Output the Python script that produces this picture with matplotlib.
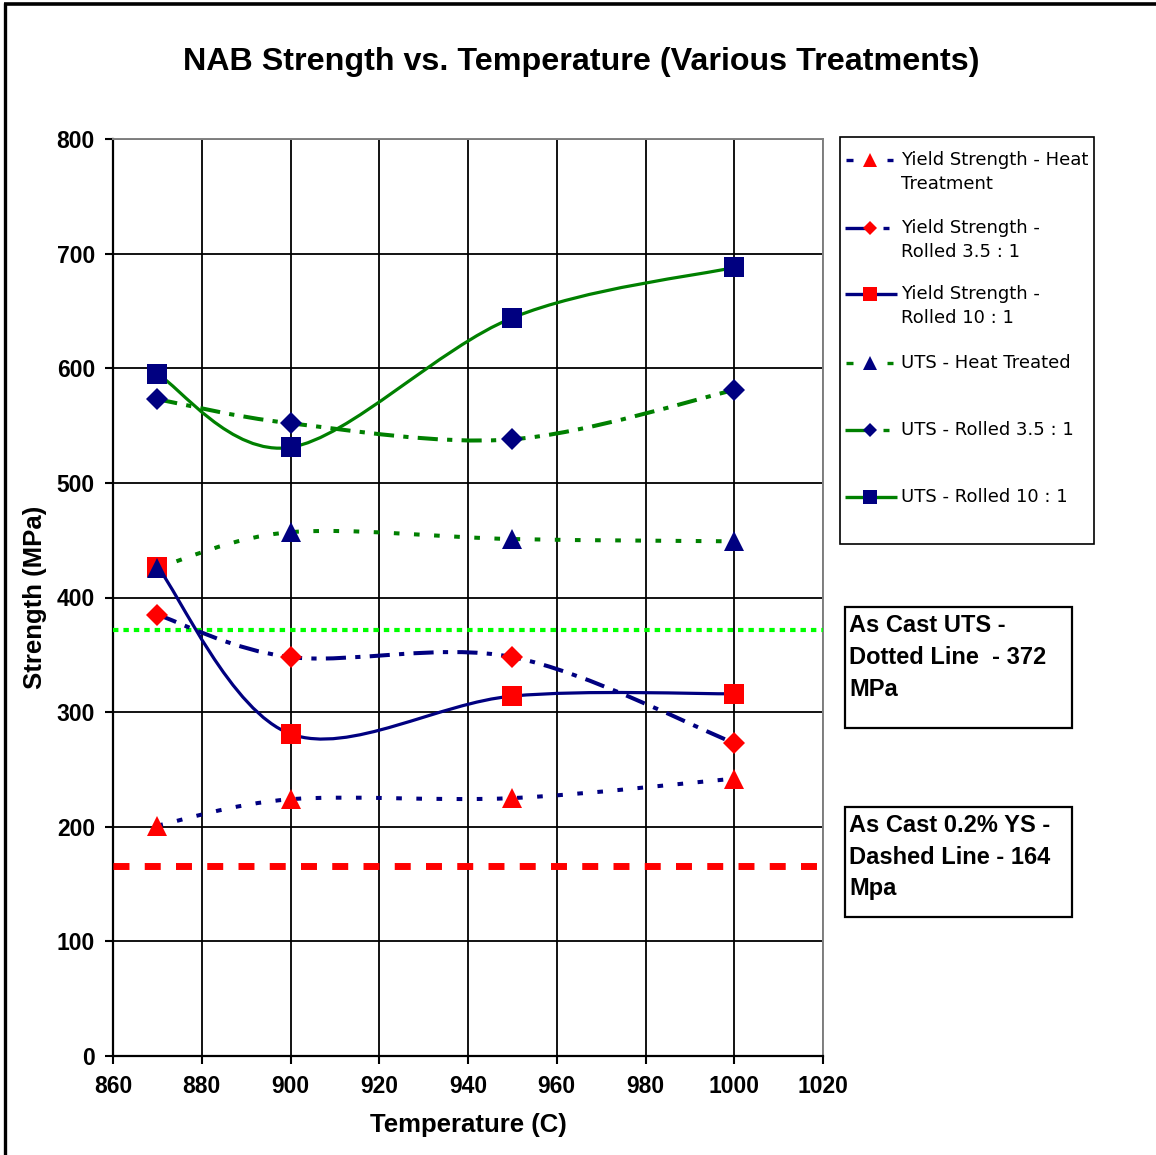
import numpy as np
import matplotlib
matplotlib.use("Agg")
import matplotlib.pyplot as plt
from matplotlib.path import Path
from matplotlib.patches import PathPatch, Rectangle

# ---------------- data ----------------
temps = [870, 900, 950, 1000]
ys_heat = [201, 224, 225, 242]
ys_r35 = [385, 348, 348, 273]
ys_r10 = [427, 281, 314, 316]
uts_heat = [426, 457, 451, 449]
uts_r35 = [573, 552, 538, 581]
uts_r10 = [595, 531, 644, 688]
as_cast_uts = 372
as_cast_ys = 166

legend_labels = [
    ["Yield Strength - Heat", "Treatment"],
    ["Yield Strength -", "Rolled 3.5 : 1"],
    ["Yield Strength -", "Rolled 10 : 1"],
    ["UTS - Heat Treated"],
    ["UTS - Rolled 3.5 : 1"],
    ["UTS - Rolled 10 : 1"],
]
x_ticks = list(range(860, 1021, 20))
y_ticks = list(range(0, 801, 100))

NAVY = "#000080"
GREEN = "#008000"
RED = "#FF0000"
LIME = "#00FF00"

W, H = 1156, 1155
fig = plt.figure(figsize=(W / 100, H / 100), dpi=100)
fig.patch.set_facecolor("white")

ax_l, ax_r, ax_t, ax_b = 113, 823, 139, 1056
ax = fig.add_axes([ax_l / W, 1 - ax_b / H, (ax_r - ax_l) / W, (ax_b - ax_t) / H])
ax.set_xlim(860, 1020)
ax.set_ylim(0, 800)
ax.set_xticks(x_ticks)
ax.set_yticks(y_ticks)
ax.grid(True, color="black", linewidth=1.3)
ax.set_axisbelow(True)
for s in ["left", "bottom"]:
    ax.spines[s].set_color("black")
    ax.spines[s].set_linewidth(1.6)
for s in ["top", "right"]:
    ax.spines[s].set_color("#808080")
    ax.spines[s].set_linewidth(1.4)
for s in ax.spines.values():
    s.set_zorder(3)
ax.tick_params(axis="y", direction="out", length=6, width=1.5, pad=7,
               labelsize=16.5)
ax.tick_params(axis="x", direction="out", length=6, width=1.5, pad=8,
               labelsize=16.5)
for lab in ax.get_xticklabels() + ax.get_yticklabels():
    lab.set_fontfamily("Liberation Sans")
    lab.set_fontweight("bold")

ax.set_xlabel("Temperature (C)", fontsize=18.5, fontweight="bold",
              fontfamily="Liberation Sans", va="center")
ax.xaxis.set_label_coords(0.5, (ax_b - 1125) / (ax_b - ax_t))
ax.set_ylabel("Strength (MPa)", fontsize=18.5, fontweight="bold",
              fontfamily="Liberation Sans", va="center")
ax.yaxis.set_label_coords((35 - ax_l) / (ax_r - ax_l), 0.5)


def smooth_path(xs, ys):
    P = np.column_stack([xs, ys]).astype(float)
    n = len(P)
    verts = [P[0]]
    codes = [Path.MOVETO]
    for i in range(n - 1):
        p0 = P[i - 1] if i > 0 else P[i]
        p1 = P[i]
        p2 = P[i + 1]
        p3 = P[i + 2] if i + 2 < n else P[i + 1]
        c1 = p1 + (p2 - p0) / 6.0
        c2 = p2 - (p3 - p1) / 6.0
        verts += [c1, c2, p2]
        codes += [Path.CURVE4] * 3
    return Path(verts, codes)


DOT = (0, (1.4, 3.6))
DASHDOT = (0, (5, 2.3, 1.3, 2.3))

series = [
    (ys_heat, NAVY, 2.9, DOT, "^", RED, 14.5),
    (ys_r35, NAVY, 2.9, DASHDOT, "D", RED, 11.5),
    (ys_r10, NAVY, 2.3, "-", "s", RED, 14.5),
    (uts_heat, GREEN, 2.9, DOT, "^", NAVY, 14.5),
    (uts_r35, GREEN, 2.9, DASHDOT, "D", NAVY, 11.5),
    (uts_r10, GREEN, 2.3, "-", "s", NAVY, 14.5),
]

ax.axhline(as_cast_uts, color=LIME, lw=3.0, linestyle=(0, (1.3, 1.2)), zorder=4)
ax.axhline(as_cast_ys, color=RED, lw=5.0, linestyle=(0, (2.3, 2.2)), zorder=4)

for vals, lc, lw, ls, mk, mc, ms in series:
    pp = PathPatch(smooth_path(temps, vals), fill=False, edgecolor=lc,
                   linewidth=lw, linestyle=ls, capstyle="butt", zorder=5)
    ax.add_patch(pp)
for i, (vals, lc, lw, ls, mk, mc, ms) in enumerate(series):
    ax.plot(temps, vals, linestyle="none", marker=mk, markersize=ms,
            color=mc, markeredgewidth=0, zorder=6 + i * 0.1)

# ---------------- overlay (pixel coords) ----------------
ov = fig.add_axes([0, 0, 1, 1])
ov.set_xlim(0, W)
ov.set_ylim(H, 0)
ov.axis("off")
ov.patch.set_alpha(0)

# outer frame (left + top)
ov.plot([5, 5], [3, H], color="black", lw=2.4, solid_capstyle="butt")
ov.plot([4, W], [3.5, 3.5], color="black", lw=2.6, solid_capstyle="butt")

# title
ov.text(581, 62, "NAB Strength vs. Temperature (Various Treatments)",
        fontsize=23.2, fontweight="bold", fontfamily="Liberation Sans",
        ha="center", va="center")

# legend box
ov.add_patch(Rectangle((840, 137), 254, 407, fill=False, edgecolor="black",
                       lw=1.2))
leg_y = [160, 228, 294, 363, 430, 497]
leg_line2 = [184, 252, 318]
for i, (vals, lc, lw, ls, mk, mc, ms) in enumerate(series):
    y = leg_y[i]
    if ls == DOT:
        segs = [(846, 853), (887, 893)]
    elif ls == DASHDOT:
        segs = [(845, 866), (883, 889)]
    else:
        segs = [(845, 897)]
    for a, b in segs:
        ov.plot([a, b], [y, y], color=lc, lw=2.4, solid_capstyle="butt")
    lms = {"^": 10.5, "D": 7.5, "s": 10}[mk]
    ov.plot([870], [y], marker=mk, color=mc, markersize=lms,
            markeredgewidth=0, linestyle="none")
    lines = legend_labels[i]
    ov.text(901, y, lines[0], fontsize=13, fontfamily="DejaVu Sans",
            ha="left", va="center")
    if len(lines) > 1:
        ov.text(901, leg_line2[i], lines[1], fontsize=13,
                fontfamily="DejaVu Sans", ha="left", va="center")

# annotation boxes
ov.add_patch(Rectangle((845, 607), 227, 121, fill=False, edgecolor="black",
                       lw=1.6))
ov.add_patch(Rectangle((845, 807), 227, 110, fill=False, edgecolor="black",
                       lw=1.6))
for y, t in zip([626, 658, 690], ["As Cast UTS -", "Dotted Line  - 372", "MPa"]):
    ov.text(849, y, t, fontsize=17, fontweight="bold",
            fontfamily="Liberation Sans", ha="left", va="center")
for y, t in zip([825, 857, 889], ["As Cast 0.2% YS -", "Dashed Line - 164", "Mpa"]):
    ov.text(849, y, t, fontsize=17, fontweight="bold",
            fontfamily="Liberation Sans", ha="left", va="center")

fig.savefig("out.png", dpi=100)
